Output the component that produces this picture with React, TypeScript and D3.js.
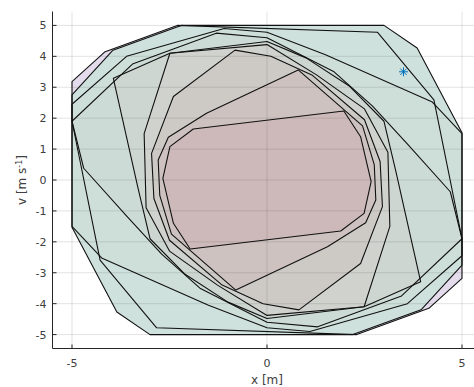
import React from "react";
import * as d3 from "d3";

type Pt = [number, number];

// Nested centrally-symmetric sets, listed from the outermost to the innermost.
const setL: Pt[] = [[5, -3.18], [5, -1.9], [4.28, 2.59], [2.83, 4.78], [-2.3, 5], [-4.15, 4.15], [-5, 3.18], [-5, 1.9], [-4.28, -2.59], [-2.83, -4.78], [2.3, -5], [4.15, -4.15]];
const setA: Pt[] = [[5, 1.53], [3.85, 4.27], [3.0, 5], [-2.2, 5], [-3.95, 4.2], [-5, 2.75], [-5, -1.53], [-3.85, -4.27], [-3.0, -5], [2.2, -5], [3.95, -4.2], [5, -2.75]];
const setB: Pt[] = [[5, 1.5], [4.24, 2.52], [1.5, 4.05], [0, 4.78], [-1.1, 4.9], [-3.6, 4.0], [-5, 2.45], [-5, -1.5], [-4.24, -2.52], [-1.5, -4.05], [0, -4.78], [1.1, -4.9], [3.6, -4.0], [5, -2.45]];
const setC: Pt[] = [[5, -1.9], [4.7, -0.38], [3.58, 1.19], [2.7, 2.4], [1.72, 3.5], [0, 4.6], [-1.3, 4.75], [-3.45, 3.75], [-5, 1.9], [-4.7, 0.38], [-3.58, -1.19], [-2.7, -2.4], [-1.72, -3.5], [0, -4.6], [1.3, -4.75], [3.45, -3.75]];
const setD: Pt[] = [[3.94, -3.29], [3.3, 0.3], [3.0, 1.9], [2.1, 3.05], [1.0, 3.95], [0, 4.48], [-2.49, 4.1], [-3.94, 3.29], [-3.3, -0.3], [-3.0, -1.9], [-2.1, -3.05], [-1.0, -3.95], [0, -4.48], [2.49, -4.1]];
const setE: Pt[] = [[2.49, -4.1], [3.15, -1.5], [3.1, 0.9], [2.5, 2.3], [1.27, 3.4], [0, 4.38], [-2.49, 4.1], [-3.15, 1.5], [-3.1, -0.9], [-2.5, -2.3], [-1.27, -3.4], [0, -4.38]];
const setF: Pt[] = [[-0.82, 4.2], [-2.4, 2.7], [-2.96, 0.86], [-2.9, -0.6], [-2.5, -1.95], [-1.15, -3.4], [-0.1, -4.0], [0.82, -4.2], [2.4, -2.7], [2.96, -0.86], [2.9, 0.6], [2.5, 1.95], [1.15, 3.4], [0.1, 4.0]];
const setG: Pt[] = [[0.8, 3.56], [-1.55, 2.16], [-2.53, 1.38], [-2.79, 0.65], [-2.75, -0.5], [-2.45, -1.75], [-0.8, -3.56], [1.55, -2.16], [2.53, -1.38], [2.79, -0.65], [2.75, 0.5], [2.45, 1.75]];
const setH: Pt[] = [[1.97, 2.23], [-1.89, 1.65], [-2.49, 1.08], [-2.67, 0.05], [-2.4, -1.4], [-1.97, -2.23], [1.89, -1.65], [2.49, -1.08], [2.67, -0.05], [2.4, 1.4]];

const sets: Pt[][] = [setL, setA, setB, setC, setD, setE, setF, setG, setH];
const setColors = ["#e4dcec", "#cfe1dd", "#cedfda", "#cddbd6", "#cdd6d1", "#cfd2cd", "#cdcac6", "#cdc2bf", "#cdb9b9"];

// Marked state
const pointX = [3.5];
const pointY = [3.5];

const xTicks = [-5, 0, 5];
const yTicks = [-5, -4, -3, -2, -1, 0, 1, 2, 3, 4, 5];

const W = 474;
const H = 387;

export default function App() {
  const x = d3.scaleLinear().domain([-5.5, 5.5]).range([52.5, 481.5]);
  const y = d3.scaleLinear().domain([-5.45, 5.45]).range([348.5, 11.5]);
  const line = d3
    .line<Pt>()
    .x((d) => x(d[0]))
    .y((d) => y(d[1]))
    .curve(d3.curveLinearClosed);

  const axisColor = "#262626";
  const font = "'DejaVu Sans', sans-serif";
  const [x0, x1] = x.range();
  const [yb, yt] = y.range();

  return (
    <svg
      width={W}
      height={H}
      style={{ position: "absolute", left: 0, top: 0, background: "#fff" }}
      fontFamily={font}
    >
      <defs>
        <clipPath id="plotArea">
          <rect x={x0} y={yt} width={x1 - x0} height={yb - yt} />
        </clipPath>
      </defs>
      <g clipPath="url(#plotArea)">
        {sets.map((s, i) => (
          <path key={"f" + i} d={line(s) || ""} fill={setColors[i]} stroke="none" />
        ))}
        {/* grid */}
        {xTicks.map((t) => (
          <line key={"gx" + t} x1={x(t)} x2={x(t)} y1={yt} y2={yb} stroke="#262626" strokeOpacity={0.13} strokeWidth={1} />
        ))}
        {yTicks.map((t) => (
          <line key={"gy" + t} x1={x0} x2={x1} y1={y(t)} y2={y(t)} stroke="#262626" strokeOpacity={0.13} strokeWidth={1} />
        ))}
        {sets.map((s, i) => (
          <path key={"o" + i} d={line(s) || ""} fill="none" stroke="#111" strokeWidth={1.1} strokeLinejoin="round" />
        ))}
        {pointX.map((px, i) => {
          const cx = x(px);
          const cy = y(pointY[i]);
          const r = 4.5;
          const d = r * Math.SQRT1_2;
          return (
            <g key={"p" + i} stroke="#0072bd" strokeWidth={1}>
              <line x1={cx - r} x2={cx + r} y1={cy} y2={cy} />
              <line x1={cx} x2={cx} y1={cy - r} y2={cy + r} />
              <line x1={cx - d} x2={cx + d} y1={cy - d} y2={cy + d} />
              <line x1={cx - d} x2={cx + d} y1={cy + d} y2={cy - d} />
            </g>
          );
        })}
      </g>
      {/* axes */}
      <line x1={x0} x2={x0} y1={yt} y2={yb} stroke={axisColor} strokeWidth={1} />
      <line x1={x0} x2={x1} y1={yb} y2={yb} stroke={axisColor} strokeWidth={1} />
      {xTicks.map((t) => (
        <g key={"xt" + t}>
          <line x1={x(t)} x2={x(t)} y1={yb} y2={yb - 4} stroke={axisColor} />
          <text x={x(t)} y={yb + 18} textAnchor="middle" fontSize={11} fill="#404040">
            {t}
          </text>
        </g>
      ))}
      {yTicks.map((t) => (
        <g key={"yt" + t}>
          <line x1={x0} x2={x0 + 4} y1={y(t)} y2={y(t)} stroke={axisColor} />
          <text x={x0 - 6} y={y(t) + 4} textAnchor="end" fontSize={11} fill="#404040">
            {t}
          </text>
        </g>
      ))}
      <text x={x(0)} y={384} textAnchor="middle" fontSize={12} fill="#404040">
        x [m]
      </text>
      <text transform={`translate(26, ${y(0)}) rotate(-90)`} textAnchor="middle" fontSize={12} fill="#404040">
        v [m s
        <tspan baselineShift="super" fontSize={8}>
          -1
        </tspan>
        ]
      </text>
    </svg>
  );
}
